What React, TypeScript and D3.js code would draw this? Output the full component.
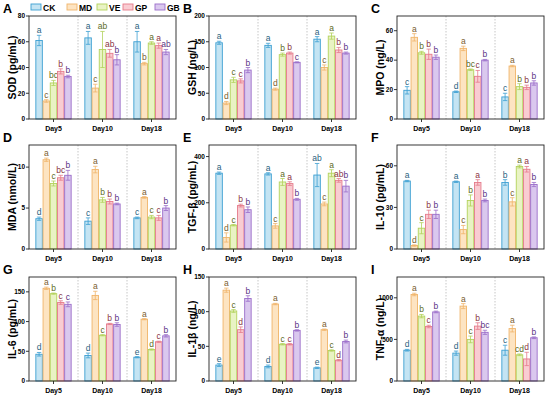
import * as d3 from "d3";

const days = ["Day5", "Day10", "Day18"];
const groups = ["CK", "MD", "VE", "GP", "GB"];
const fills = ["#c4e4f3", "#fde4c2", "#e9f3c4", "#f9ccd2", "#dac8ee"];
const strokes = ["#3c9fd2", "#f0b46a", "#b3d25c", "#e57b8b", "#9a6dc9"];
const textColors = ["#2b5f80", "#7a6030", "#5d6b25", "#8a3645", "#5b3585"];

// values per day: [CK, MD, VE, GP, GB]
const sodVal = [[61, 14, 28, 37, 33], [63, 24, 54, 51, 46], [60, 43, 59, 57, 52]];
const sodErr = [[4, 1, 2, 2, 1], [5, 3, 14, 3, 4], [8, 1, 1, 2, 2]];
const sodLet = [["a", "c", "bc", "b", "b"], ["a", "c", "ab", "ab", "b"], ["a", "b", "a", "a", "ab"]];

const gshVal = [[148, 31, 76, 74, 95], [143, 58, 125, 128, 110], [155, 100, 161, 134, 128]];
const gshErr = [[3, 3, 5, 4, 5], [4, 2, 3, 2, 1], [5, 5, 6, 5, 2]];
const gshLet = [["a", "d", "c", "c", "b"], ["a", "d", "b", "b", "c"], ["a", "c", "a", "b", "b"]];

const mpoVal = [[19.5, 55.5, 45, 44, 42], [18.5, 48, 33.5, 29, 40], [15, 36, 22, 21.5, 24.5]];
const mpoErr = [[2.5, 2.5, 1, 3.5, 1.5], [0.5, 1.5, 0.5, 4, 0.5], [2.5, 0.5, 2, 1.5, 1.5]];
const mpoLet = [["c", "a", "b", "b", "b"], ["d", "a", "bc", "c", "b"], ["c", "a", "b", "b", "b"]];

const mdaVal = [[3.7, 10.9, 8, 8.7, 9], [3.4, 9.7, 6, 5.8, 5.5], [3.8, 6.3, 3.9, 3.8, 5]];
const mdaErr = [[0.2, 0.2, 0.3, 0.3, 0.6], [0.4, 0.4, 0.3, 0.3, 0.1], [0.1, 0.1, 0.2, 0.3, 0.3]];
const mdaLet = [["d", "a", "c", "bc", "b"], ["c", "a", "b", "b", "b"], ["c", "a", "c", "c", "b"]];

const tgfVal = [[328, 50, 103, 188, 170], [325, 100, 290, 283, 215], [320, 195, 328, 297, 272]];
const tgfErr = [[5, 20, 3, 6, 12], [5, 10, 15, 8, 4], [50, 8, 15, 8, 25]];
const tgfLet = [["a", "d", "c", "b", "b"], ["a", "c", "a", "a", "b"], ["ab", "c", "a", "ab", "b"]];

const il10Val = [[49, 2.5, 15, 25, 25], [48.5, 14, 35, 48, 35], [48, 34, 59.5, 57.5, 46.5]];
const il10Err = [[0.5, 0.5, 4, 3, 3], [0.5, 3, 4, 2, 1], [2, 3, 1, 2, 1.5]];
const il10Let = [["a", "d", "c", "b", "b"], ["a", "c", "b", "a", "b"], ["b", "c", "a", "a", "b"]];

const il6Val = [[45, 156, 147, 132, 129], [43, 144, 77, 96, 95], [40, 104, 53, 66, 76]];
const il6Err = [[3, 2, 1, 3, 4], [4, 7, 1, 1, 3], [1, 1, 1, 1, 2]];
const il6Let = [["d", "a", "b", "c", "c"], ["d", "a", "c", "b", "b"], ["e", "a", "d", "c", "b"]];

const il1Val = [[23, 131, 101, 74, 119], [21, 111, 53, 53, 73], [19, 74, 44, 30, 57]];
const il1Err = [[2, 3, 2, 4, 4], [2, 1, 1, 1, 1], [1, 1, 1, 1, 2]];
const il1Let = [["e", "a", "c", "d", "b"], ["d", "a", "c", "c", "b"], ["e", "a", "c", "d", "b"]];

const tnfVal = [[370, 1040, 780, 655, 830], [335, 900, 500, 660, 585], [370, 630, 315, 265, 520]];
const tnfErr = [[10, 15, 20, 15, 10], [25, 30, 40, 40, 25], [60, 40, 10, 80, 10]];
const tnfLet = [["d", "a", "b", "c", "b"], ["d", "a", "c", "b", "bc"], ["c", "a", "cd", "d", "b"]];

const font = "Arial, 'Liberation Sans', sans-serif";

function Panel({ x0, y0, w, h, tag, yLabel, yMax, ticks, vals, errs, lets }) {
  const y = d3.scaleLinear([0, yMax], [y0 + h, y0]);
  const xg = d3.scaleBand(days, [x0, x0 + w]);
  const xb = d3.scaleBand(groups, [0, xg.bandwidth()]).paddingOuter(0.95).paddingInner(0.1);
  const bw = xb.bandwidth();
  return (
    <g fontFamily={font}>
      <text x={x0 - 26} y={y0 - 3} fontSize={12.5} fontWeight="bold">{tag}</text>
      {days.slice(1).map(dd => (
        <line key={dd} x1={xg(dd)} x2={xg(dd)} y1={y0} y2={y0 + h} stroke="#b8b8b8" strokeWidth={0.8} strokeDasharray="1.5,1.5" />
      ))}
      {days.map((dd, i) => (
        <g key={dd}>
          {groups.map((g, j) => {
            const bx = xg(dd) + xb(g);
            const v = vals[i][j];
            const e = errs[i][j];
            const cx = bx + bw / 2;
            return (
              <g key={g}>
                <rect x={bx} y={y(v)} width={bw} height={y(0) - y(v)} fill={fills[j]} stroke={strokes[j]} strokeWidth={0.9} />
                <line x1={cx} x2={cx} y1={y(v - e)} y2={y(v + e)} stroke={strokes[j]} strokeWidth={0.8} />
                <line x1={cx - 2.2} x2={cx + 2.2} y1={y(v + e)} y2={y(v + e)} stroke={strokes[j]} strokeWidth={0.8} />
                <line x1={cx - 2.2} x2={cx + 2.2} y1={y(v - e)} y2={y(v - e)} stroke={strokes[j]} strokeWidth={0.8} />
                <text x={cx} y={y(v + e) - 2} fontSize={8.5} textAnchor="middle" fill={textColors[j]}>{lets[i][j]}</text>
              </g>
            );
          })}
        </g>
      ))}
      <rect x={x0} y={y0} width={w} height={h} fill="none" stroke="#222" strokeWidth={0.9} />
      {ticks.map(t => (
        <g key={t}>
          <line x1={x0 - 3} x2={x0} y1={y(t)} y2={y(t)} stroke="#222" strokeWidth={0.9} />
          <text x={x0 - 4} y={y(t)} dy="0.35em" fontSize={6.5} fontWeight="bold" textAnchor="end">{t}</text>
        </g>
      ))}
      {days.map(dd => (
        <g key={dd}>
          <line x1={xg(dd) + xg.bandwidth() / 2} x2={xg(dd) + xg.bandwidth() / 2} y1={y0 + h} y2={y0 + h + 3} stroke="#222" strokeWidth={0.9} />
          <text x={xg(dd) + xg.bandwidth() / 2} y={y0 + h + 12} fontSize={7} fontWeight="bold" textAnchor="middle">{dd}</text>
        </g>
      ))}
      <text transform={`translate(${x0 - 13},${y0 + h / 2}) rotate(-90)`} fontSize={10.5} fontWeight="bold" textAnchor="middle">{yLabel}</text>
    </g>
  );
}

const legendX = [31, 67, 97, 123, 155];

export default function App() {
  const w = 147;
  const cols = [29, 209, 397];
  const rows = [{ y: 16, h: 103 }, { y: 145, h: 104 }, { y: 277, h: 104 }];
  return (
    <svg width={550} height={399} style={{ position: "absolute", left: 0, top: 0, background: "#fff" }}>
      <g fontFamily={font}>
        {groups.map((g, j) => (
          <g key={g}>
            <rect x={legendX[j]} y={4} width={10} height={6} fill={fills[j]} stroke={strokes[j]} strokeWidth={0.9} />
            <text x={legendX[j] + 12} y={10.5} fontSize={8.5} fontWeight="bold">{g}</text>
          </g>
        ))}
      </g>
      <Panel x0={cols[0]} y0={rows[0].y} w={w} h={rows[0].h} tag="A" yLabel="SOD (pg/mL)" yMax={80} ticks={[0, 20, 40, 60, 80]} vals={sodVal} errs={sodErr} lets={sodLet} />
      <Panel x0={cols[1]} y0={rows[0].y} w={w} h={rows[0].h} tag="B" yLabel="GSH (ng/L)" yMax={200} ticks={[0, 50, 100, 150, 200]} vals={gshVal} errs={gshErr} lets={gshLet} />
      <Panel x0={cols[2]} y0={rows[0].y} w={w} h={rows[0].h} tag="C" yLabel="MPO (ng/L)" yMax={70} ticks={[0, 20, 40, 60]} vals={mpoVal} errs={mpoErr} lets={mpoLet} />
      <Panel x0={cols[0]} y0={rows[1].y} w={w} h={rows[1].h} tag="D" yLabel="MDA (nmol/L)" yMax={12.7} ticks={[0, 5, 10]} vals={mdaVal} errs={mdaErr} lets={mdaLet} />
      <Panel x0={cols[1]} y0={rows[1].y} w={w} h={rows[1].h} tag="E" yLabel="TGF-β (pg/mL)" yMax={450} ticks={[0, 200, 400]} vals={tgfVal} errs={tgfErr} lets={tgfLet} />
      <Panel x0={cols[2]} y0={rows[1].y} w={w} h={rows[1].h} tag="F" yLabel="IL-10 (pg/mL)" yMax={75} ticks={[0, 30, 60]} vals={il10Val} errs={il10Err} lets={il10Let} />
      <Panel x0={cols[0]} y0={rows[2].y} w={w} h={rows[2].h} tag="G" yLabel="IL-6 (pg/mL)" yMax={175} ticks={[0, 50, 100, 150]} vals={il6Val} errs={il6Err} lets={il6Let} />
      <Panel x0={cols[1]} y0={rows[2].y} w={w} h={rows[2].h} tag="H" yLabel="IL-1β (ng/L)" yMax={150} ticks={[0, 50, 100, 150]} vals={il1Val} errs={il1Err} lets={il1Let} />
      <Panel x0={cols[2]} y0={rows[2].y} w={w} h={rows[2].h} tag="I" yLabel="TNF-α (ng/L)" yMax={1250} ticks={[0, 500, 1000]} vals={tnfVal} errs={tnfErr} lets={tnfLet} />
    </svg>
  );
}
